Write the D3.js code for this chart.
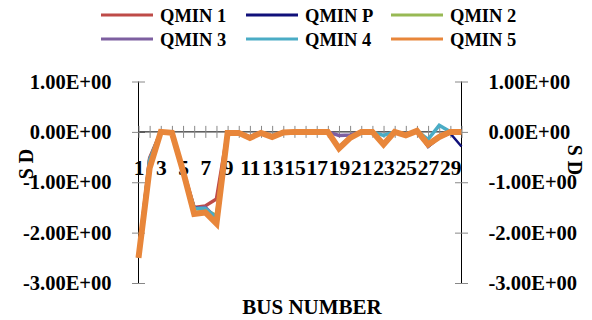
<!DOCTYPE html>
<html>
<head>
<meta charset="utf-8">
<script src="https://cdn.jsdelivr.net/npm/d3@7"></script>
<style>
  body { margin: 0; background: #fff; }
  text { font-family: "Liberation Serif", "Times New Roman", serif; font-weight: bold; }
</style>
</head>
<body>
<div id="graph-container"></div>
<script>
const width = 592, height = 320;

// bus numbers and the S D values
const buses = [1,2,3,4,5,6,7,8,9,10,11,12,13,14,15,16,17,18,19,20,21,22,23,24,25,26,27,28,29,30];
const busLabels = [1,3,5,7,9,11,13,15,17,19,21,23,25,27,29];
const yTicks = [1, 0, -1, -2, -3];
const seriesNames = ["QMIN 1", "QMIN P", "QMIN 2", "QMIN 3", "QMIN 4", "QMIN 5"];
const seriesColors = ["#BE4B48", "#10107A", "#98B954", "#7D5FA0", "#4AACC5", "#E8863A"];

const qmin1 = [-2.45,-0.52,0,0,-0.75,-1.5,-1.47,-1.33,0,-0.02,-0.12,-0.02,-0.1,-0.01,0,0,0,0,-0.33,-0.12,0,0,-0.25,0,-0.07,0.02,-0.25,-0.1,0,0];
const qminP = [-2.5,-0.55,0,0,-0.78,-1.5,-1.5,-1.75,-0.01,-0.02,-0.12,-0.02,-0.1,-0.01,0,0,0,0,-0.33,-0.12,0,0,-0.25,0,-0.07,0.02,-0.3,-0.12,-0.03,-0.29];
const qmin2 = [-2.5,-0.55,0,0,-0.78,-1.52,-1.55,-1.66,-0.01,-0.02,-0.12,-0.02,-0.1,-0.01,0,0,0,0,-0.33,-0.12,0,0,-0.25,0,-0.07,0.02,-0.25,-0.1,0,0];
const qmin3 = [-2.5,-0.55,0,0,-0.78,-1.52,-1.5,-1.72,-0.01,-0.02,-0.1,-0.02,-0.08,-0.01,0,0,0,0,-0.07,-0.06,0,0,-0.25,0,-0.07,0.02,-0.28,-0.1,0,0];
const qmin4 = [-2.5,-0.56,0,0,-0.78,-1.52,-1.52,-1.7,-0.01,-0.02,-0.1,-0.02,-0.08,-0.01,0,0,0,0,-0.3,-0.1,0,0,-0.07,0,-0.07,0.02,-0.15,0.13,0,0];
const qmin5 = [-2.5,-0.72,0,-0.02,-0.78,-1.63,-1.6,-1.82,-0.02,-0.02,-0.12,-0.02,-0.1,-0.01,0,0,0,0,-0.33,-0.12,0,0,-0.25,0,-0.07,0.02,-0.25,-0.1,0,0];
const seriesValues = [qmin1, qminP, qmin2, qmin3, qmin4, qmin5];

const x = d3.scalePoint()
  .domain(buses)
  .range([138.5, 461.5]);

const y = d3.scaleLinear()
  .domain([-3, 1])
  .range([283, 81.5]);

const svg = d3.select("#graph-container").append("svg")
  .attr("width", width)
  .attr("height", height)
  .attr("viewBox", [0, 0, width, height]);

// plain hyphen, like the original sheet
const fmt = d => d.toFixed(2) + "E+00";

// left value axis, ticks crossing the line
const gyL = svg.append("g")
  .attr("transform", `translate(${x.range()[0]},0)`)
  .call(d3.axisLeft(y).tickValues(yTicks).tickFormat(fmt).tickSize(6).tickPadding(21));
gyL.select(".domain").attr("stroke", "#000").attr("d", `M0,${y(1)}V${y(-3)}`);
gyL.selectAll(".tick line").attr("x1", -6.5).attr("x2", 6.5).attr("stroke", "#888");
gyL.selectAll(".tick text").attr("font-size", 20.5).attr("font-family", null).attr("fill", "#000");

// right value axis
const gyR = svg.append("g")
  .attr("transform", `translate(${x.range()[1]},0)`)
  .call(d3.axisRight(y).tickValues(yTicks).tickFormat(fmt).tickSize(6).tickPadding(21));
gyR.select(".domain").attr("stroke", "#000").attr("d", `M0,${y(1)}V${y(-3)}`);
gyR.selectAll(".tick line").attr("x1", -6.5).attr("x2", 6.5).attr("stroke", "#888");
gyR.selectAll(".tick text").attr("font-size", 20.5).attr("font-family", null).attr("fill", "#000");

// category axis sitting on zero
const gx = svg.append("g")
  .attr("transform", `translate(0,${y(0)})`)
  .call(d3.axisBottom(x).tickFormat("").tickSize(6));
gx.select(".domain").attr("stroke", "#000").attr("d", `M${x.range()[0]},0H${x.range()[1]}`);
gx.selectAll(".tick line").attr("y1", -6).attr("y2", 6).attr("stroke", "#888");

const gxl = svg.append("g")
  .attr("transform", `translate(0,${y(0)})`)
  .call(d3.axisBottom(x).tickValues(busLabels).tickSize(0).tickPadding(0));
gxl.select(".domain").remove();
gxl.selectAll(".tick text")
  .attr("font-size", 21.5)
  .attr("font-family", null)
  .attr("fill", "#000")
  .attr("dy", null)
  .attr("y", 43);

// lines
const line = d3.line()
  .x((d, i) => x(buses[i]))
  .y(d => y(d));

svg.selectAll("path.series")
  .data(seriesValues)
  .join("path")
  .attr("class", "series")
  .attr("fill", "none")
  .attr("stroke", (d, i) => seriesColors[i])
  .attr("stroke-width", (d, i) => i === 5 ? 6 : (i === 1 ? 2.5 : 3.5))
  .attr("stroke-linejoin", "miter")
  .attr("d", line);

// axis titles
svg.append("text")
  .attr("transform", `translate(33,164) rotate(-90)`)
  .attr("text-anchor", "middle")
  .attr("font-size", 20)
  .text("S D");

svg.append("text")
  .attr("transform", `translate(568,160) rotate(90)`)
  .attr("text-anchor", "middle")
  .attr("font-size", 20)
  .text("S D");

svg.append("text")
  .attr("x", 312)
  .attr("y", 314)
  .attr("text-anchor", "middle")
  .attr("font-size", 21)
  .text("BUS NUMBER");

// legend, two rows of three
const legend = svg.append("g");
const item = legend.selectAll("g")
  .data(seriesNames)
  .join("g")
  .attr("transform", (d, i) => `translate(${101 + (i % 3) * 145},${15 + Math.floor(i / 3) * 24})`);

item.append("line")
  .attr("x1", 0).attr("x2", 52)
  .attr("stroke", (d, i) => seriesColors[i])
  .attr("stroke-width", 3);

item.append("text")
  .attr("x", 59)
  .attr("y", 6.5)
  .attr("font-size", 18.5)
  .text(d => d);
</script>
</body>
</html>
